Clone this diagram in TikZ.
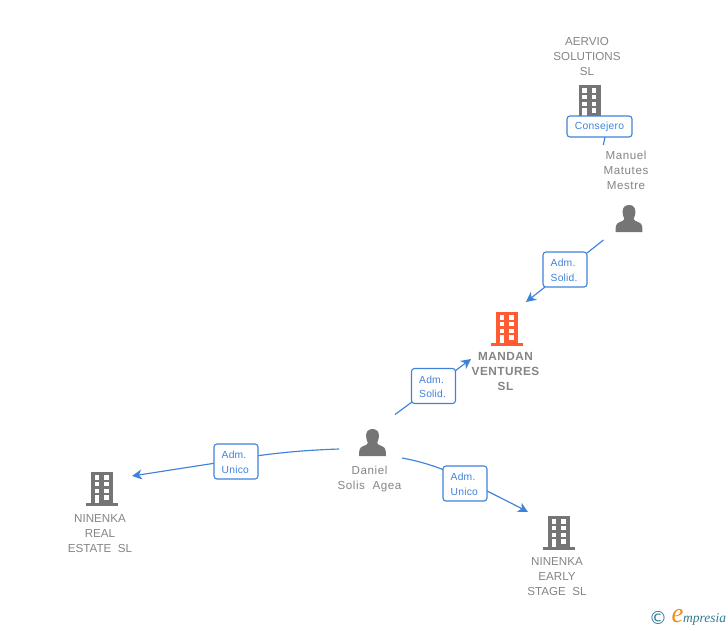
\documentclass[tikz,border=0pt]{standalone}
\usepackage{fontspec}
\setmainfont{Liberation Sans}
\newfontfamily\logofont{Liberation Serif}
\newfontfamily\symfont{DejaVu Sans}
\usetikzlibrary{arrows.meta}
\definecolor{edgeblue}{HTML}{3F82DC}
\definecolor{txtgrey}{HTML}{858585}
\definecolor{icongrey}{HTML}{757575}
\definecolor{orangeicon}{HTML}{FF5C33}
\definecolor{logoteal}{HTML}{2F7C96}
\definecolor{logoorange}{HTML}{F58A1F}
\newcommand{\lstrut}{\rule{0pt}{9.2pt}}
\tikzset{
  edgeline/.style={draw=edgeblue,line width=1.15pt,-{Stealth[length=10pt,width=10pt,inset=3pt]}},
  plainline/.style={draw=edgeblue,line width=1.15pt},
  lab/.style={draw=edgeblue,fill=white,line width=1.1pt,rounded corners=3pt,text=edgeblue,
    font=\fontsize{10.3}{14.7}\selectfont\addfontfeature{LetterSpace=2},align=left,inner sep=0pt,text width=28.6pt,
    minimum width=44pt,minimum height=35pt},
  labone/.style={draw=edgeblue,fill=white,line width=1.1pt,rounded corners=3pt,text=edgeblue,
    font=\fontsize{10.3}{14.7}\selectfont\addfontfeature{LetterSpace=3},inner sep=0pt,minimum width=65pt,minimum height=21pt},
  nametxt/.style={text=txtgrey,font=\fontsize{11.6}{15}\selectfont,align=center,inner sep=0pt},
  nametxtmixed/.style={text=txtgrey,font=\fontsize{11.6}{15}\selectfont\addfontfeature{LetterSpace=5},align=center,inner sep=0pt},
  nametxtbold/.style={text=txtgrey,font=\fontsize{11.8}{15}\selectfont\bfseries\addfontfeature{LetterSpace=4},align=center,inner sep=0pt},
  iconanchor/.style={inner sep=0pt,minimum size=1pt}
}
% #1 name, #2 x centre, #3 y top, #4 colour
\newcommand{\buildingicon}[4]{%
  \node[iconanchor] (#1) at (#2,#3+16.5) {};
  \begin{scope}[shift={(#2,#3)}]
    \fill[#4] (-11,0) rectangle (11,32);
    \fill[#4] (-16,31) rectangle (16,33.5);
    \foreach \r in {0,1,2}{
      \fill[white] (-7.2,3.3+6.7*\r) rectangle (-2.6,7.7+6.7*\r);
      \fill[white] (2.2,3.3+6.7*\r) rectangle (6.8,7.7+6.7*\r);
    }
    \fill[white] (-7.2,23.4) rectangle (-2.6,31);
    \fill[white] (2.2,23.4) rectangle (6.8,27.8);
  \end{scope}}
% #1 name, #2 x centre, #3 y top
\newcommand{\personicon}[3]{%
  \node[iconanchor] (#1) at (#2,#3+13.5) {};
  \begin{scope}[shift={(#2,#3)}]
    \fill[icongrey] (0,0) .. controls (4.2,0) and (6.6,2.8) .. (6.4,7)
      .. controls (6.2,10.5) and (5.2,12.5) .. (4.6,14)
      .. controls (4.8,15.5) and (7,16.2) .. (9.5,17.2)
      .. controls (13,18.6) and (13.5,21) .. (13.5,27)
      -- (-13.5,27)
      .. controls (-13.5,21) and (-13,18.6) .. (-9.5,17.2)
      .. controls (-7,16.2) and (-4.8,15.5) .. (-4.6,14)
      .. controls (-5.2,12.5) and (-6.2,10.5) .. (-6.4,7)
      .. controls (-6.6,2.8) and (-4.2,0) .. (0,0) -- cycle;
  \end{scope}}
\begin{document}
\begin{tikzpicture}[x=1pt,y=-1pt]
\useasboundingbox[fill=white] (0,0) rectangle (728,630);

% free ends of connectors
\coordinate (consStart) at (603.3,145);
\coordinate (consEnd) at (605,137);
\coordinate (manuelStart) at (603.5,240);
\coordinate (solAin) at (587,253);
\coordinate (solAout) at (545,287);
\coordinate (manuelTip) at (526,302);
\coordinate (danielUp) at (395,414.5);
\coordinate (solBin) at (412,402);
\coordinate (solBout) at (455,371);
\coordinate (mandanTip) at (471,359);
\coordinate (danielLeft) at (339,449);
\coordinate (uniAin) at (258,455.7);
\coordinate (uniAout) at (214,463.3);
\coordinate (realTip) at (132,476);
\coordinate (danielRight) at (402,458);
\coordinate (uniBin) at (443,469.5);
\coordinate (uniBout) at (487,491);
\coordinate (earlyTip) at (528,512);

% icons
\buildingicon{aervio}{589.5}{85}{icongrey}
\buildingicon{mandan}{507}{312}{orangeicon}
\buildingicon{real}{102}{472}{icongrey}
\buildingicon{early}{559}{516}{icongrey}
\personicon{manuel}{629}{205}
\personicon{daniel}{372.5}{429}

% connectors
\draw[plainline] (consStart) -- (consEnd);
\draw[plainline] (manuelStart) -- (solAin);
\draw[edgeline] (solAout) -- (manuelTip);
\draw[plainline] (danielUp) -- (solBin);
\draw[edgeline] (solBout) -- (mandanTip);
\draw[plainline] (danielLeft) .. controls (310,450) and (285,452) .. (uniAin);
\draw[edgeline] (uniAout) -- (realTip);
\draw[plainline] (danielRight) .. controls (416,460.5) and (430,464.5) .. (uniBin);
\draw[edgeline] (uniBout) .. controls (500,497.5) and (515,505) .. (earlyTip);

% labels
\node[labone] (lcons) at (599.5,126.5) {Consejero};
\node[lab] (lsolA) at (565,269.5) {\lstrut Adm.\\Solid.};
\node[lab] (lsolB) at (433.5,386) {\lstrut Adm.\\Solid.};
\node[lab] (luniA) at (236,461.5) {\lstrut Adm.\\Unico};
\node[lab] (luniB) at (465,483.5) {\lstrut Adm.\\Unico};

% texts
\node[nametxt] (taervio) at (587,57) {AERVIO\\SOLUTIONS\\SL};
\node[nametxtmixed] (tmanuel) at (626,170.5) {Manuel\\Matutes\\Mestre};
\node[nametxtbold] (tmandan) at (505.5,371.5) {MANDAN\\VENTURES\\SL};
\node[nametxtmixed] (tdaniel) at (369.5,478.5) {Daniel\\Solis\ \ Agea};
\node[nametxt] (treal) at (100,534) {NINENKA\\REAL\\ESTATE\ \ SL};
\node[nametxt] (tearly) at (557,577) {NINENKA\\EARLY\\STAGE\ \ SL};

% logo
\node[inner sep=0pt,text=logoteal,font=\symfont\fontsize{18}{18}\selectfont] (lc) at (658,618) {©};
\node[inner sep=0pt,xscale=0.95,text=logoorange,font=\logofont\itshape\fontsize{28}{28}\selectfont] (le) at (677.5,616) {e};
\node[inner sep=0pt,anchor=west,text=logoteal,font=\logofont\itshape\fontsize{13.5}{13.5}\selectfont] (lm) at (683,619.5) {mpresia};
\end{tikzpicture}
\end{document}
